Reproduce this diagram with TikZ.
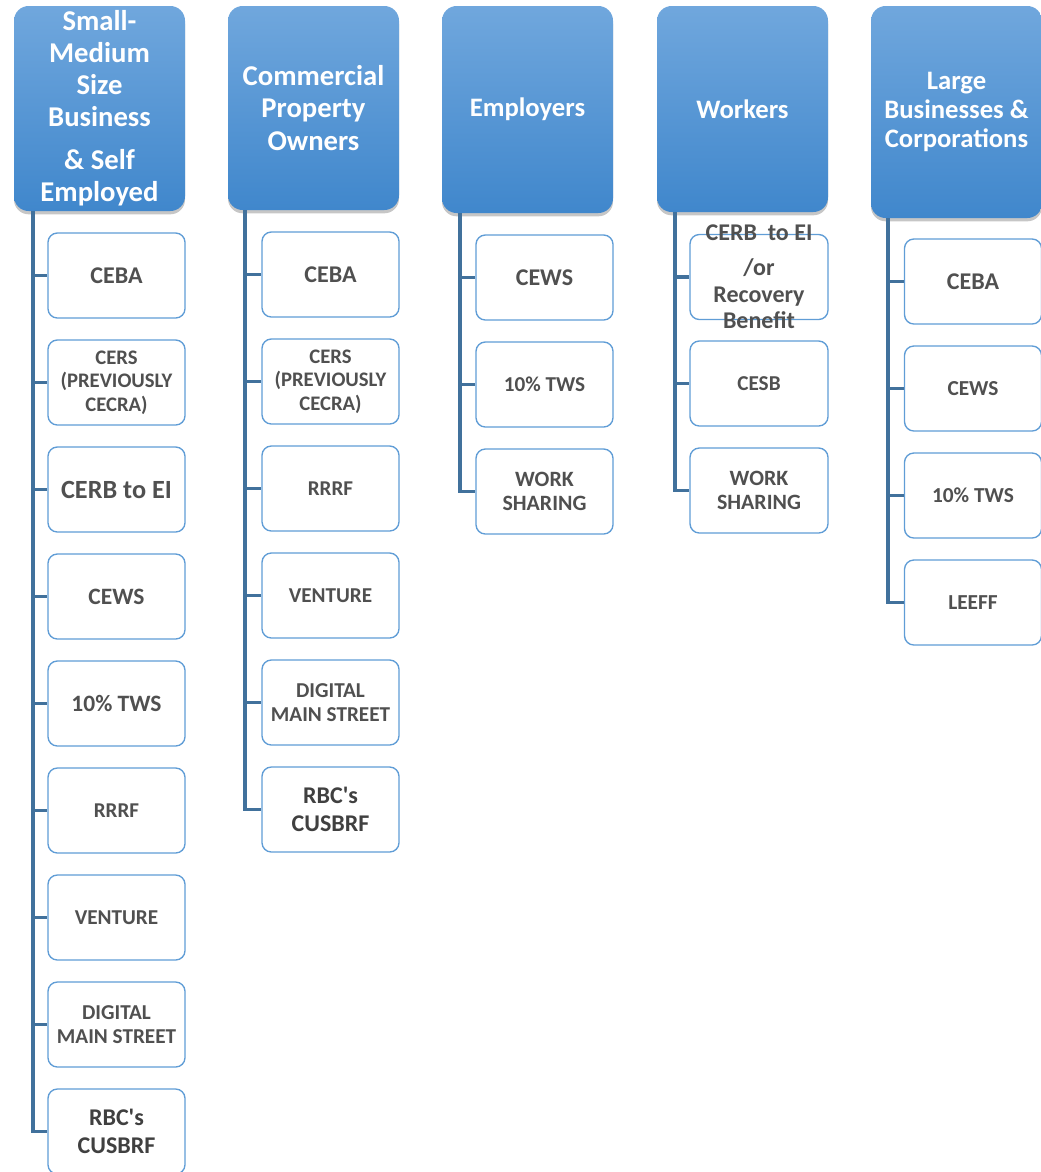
\documentclass[tikz,border=0pt]{standalone}
\usepackage{fontspec}
\setmainfont{Carlito}
\usetikzlibrary{shadows}

\definecolor{headtop}{RGB}{112,167,221}
\definecolor{headbot}{RGB}{64,135,204}
\definecolor{boxline}{RGB}{96,157,214}
\definecolor{connline}{RGB}{65,113,156}
\definecolor{txtgray}{RGB}{80,80,80}

\tikzset{every picture/.style={line width=0.75pt}}
\tikzset{
  head/.style={rounded corners=11pt, top color=headtop, bottom color=headbot, draw=none,
    drop shadow={opacity=0.45, shadow xshift=0pt, shadow yshift=-2.5pt},
    minimum width=128.25pt, text=white, align=center, inner sep=2pt,
    font=\bfseries\fontsize{20}{24}\selectfont},
  item/.style={rounded corners=7pt, draw=boxline, line width=1pt, fill=white,
    minimum width=102.75pt, minimum height=63.75pt, text=txtgray, align=center,
    inner sep=1pt, font=\bfseries\fontsize{16}{19}\selectfont},
  conn/.style={draw=connline, line width=2.3pt},
}

\begin{document}
\begin{tikzpicture}[x=0.75pt,y=0.75pt,yscale=-1,xscale=1]
\useasboundingbox (0,0) rectangle (1041,1172);

%Rounded Rect (headers)
\draw (99.5,108.5) node [head, minimum height=153.75pt, font=\bfseries\fontsize{21.5}{24}\selectfont] (h1) {Small-\\Medium\\Size\\Business\\[8pt]\& Self\\Employed};
\draw (313.5,108) node [head, minimum height=153pt, font=\bfseries\fontsize{21.5}{24.5}\selectfont] (h2) {Commercial\\Property\\Owners};
\draw (527.5,109.5) node [head, minimum height=155.25pt] (h3) {Employers};
\draw (742.5,109) node [head, minimum height=154.5pt] (h4) {Workers};
\draw (956.5,112) node [head, minimum height=159pt, font=\bfseries\fontsize{20}{22}\selectfont] (h5) {Large\\Businesses \&\\Corporations};

% Text Node (column 1)
\draw (116.5,275.5) node [item, font=\bfseries\fontsize{18}{20}\selectfont] (a1) {CEBA};
\draw (116.5,382.5) node [item, font=\bfseries\fontsize{15.5}{17.5}\selectfont] (a2) {CERS\\(PREVIOUSLY\\CECRA)};
\draw (116.5,489.5) node [item, font=\bfseries\fontsize{19.7}{22}\selectfont] (a3) {CERB to EI};
\draw (116.5,596.5) node [item, font=\bfseries\fontsize{17.6}{20}\selectfont] (a4) {CEWS};
\draw (116.5,703.5) node [item, font=\bfseries\fontsize{17.6}{20}\selectfont] (a5) {10\% TWS};
\draw (116.5,810.5) node [item, font=\bfseries\fontsize{15.8}{18}\selectfont] (a6) {RRRF};
\draw (116.5,917.5) node [item, font=\bfseries\fontsize{15.9}{18}\selectfont] (a7) {VENTURE};
\draw (116.5,1024.5) node [item, font=\bfseries\fontsize{15.9}{18}\selectfont] (a8) {DIGITAL\\MAIN STREET};
\draw (116.5,1131.5) node [item, text=black!75, font=\bfseries\fontsize{18}{21}\selectfont] (a9) {RBC\textquotesingle s\\CUSBRF};

% Text Node (column 2)
\draw (330.5,274.5) node [item, font=\bfseries\fontsize{18}{20}\selectfont] (b1) {CEBA};
\draw (330.5,381.5) node [item, font=\bfseries\fontsize{15.5}{17.5}\selectfont] (b2) {CERS\\(PREVIOUSLY\\CECRA)};
\draw (330.5,488.5) node [item, font=\bfseries\fontsize{15.8}{18}\selectfont] (b3) {RRRF};
\draw (330.5,595.5) node [item, font=\bfseries\fontsize{15.9}{18}\selectfont] (b4) {VENTURE};
\draw (330.5,702.5) node [item, font=\bfseries\fontsize{15.9}{18}\selectfont] (b5) {DIGITAL\\MAIN STREET};
\draw (330.5,809.5) node [item, text=black!75, font=\bfseries\fontsize{18}{21}\selectfont] (b6) {RBC\textquotesingle s\\CUSBRF};

% Text Node (column 3)
\draw (544.5,277.5) node [item, font=\bfseries\fontsize{18}{20}\selectfont] (c1) {CEWS};
\draw (544.5,384.5) node [item, font=\bfseries\fontsize{15.9}{18}\selectfont] (c2) {10\% TWS};
\draw (544.5,491.5) node [item, font=\bfseries\fontsize{16.4}{18.5}\selectfont] (c3) {WORK\\SHARING};

% Text Node (column 4)
\draw (759,277) node [item, minimum width=103.5pt] (d1) {};
\draw (759,277) node [text=txtgray, align=center, inner sep=0pt, font=\bfseries\fontsize{18}{20}\selectfont] (d1t) {CERB\ \ to EI\\[6pt]/or\\Recovery\\Benefit};
\draw (759,383.5) node [item, minimum width=103.5pt, font=\bfseries\fontsize{15.9}{18}\selectfont] (d2) {CESB};
\draw (759,490.5) node [item, minimum width=103.5pt, font=\bfseries\fontsize{16.4}{18.5}\selectfont] (d3) {WORK\\SHARING};

% Text Node (column 5)
\draw (973,281.5) node [item, font=\bfseries\fontsize{18}{20}\selectfont] (e1) {CEBA};
\draw (973,388.5) node [item, font=\bfseries\fontsize{16}{18}\selectfont] (e2) {CEWS};
\draw (973,495.5) node [item, font=\bfseries\fontsize{16}{18}\selectfont] (e3) {10\% TWS};
\draw (973,602.5) node [item, font=\bfseries\fontsize{16}{18}\selectfont] (e4) {LEEFF};

%Straight Lines
\coordinate (t1) at (33,211);
\coordinate (t2) at (245,210);
\coordinate (t3) at (460,213);
\coordinate (t4) at (675,212);
\coordinate (t5) at (888,218);

\draw [conn] (t1) |- (a1.west);
\draw [conn] (t1) |- (a2.west);
\draw [conn] (t1) |- (a3.west);
\draw [conn] (t1) |- (a4.west);
\draw [conn] (t1) |- (a5.west);
\draw [conn] (t1) |- (a6.west);
\draw [conn] (t1) |- (a7.west);
\draw [conn] (t1) |- (a8.west);
\draw [conn] (t1) |- (a9.west);

\draw [conn] (t2) |- (b1.west);
\draw [conn] (t2) |- (b2.west);
\draw [conn] (t2) |- (b3.west);
\draw [conn] (t2) |- (b4.west);
\draw [conn] (t2) |- (b5.west);
\draw [conn] (t2) |- (b6.west);

\draw [conn] (t3) |- (c1.west);
\draw [conn] (t3) |- (c2.west);
\draw [conn] (t3) |- (c3.west);

\draw [conn] (t4) |- (d1.west);
\draw [conn] (t4) |- (d2.west);
\draw [conn] (t4) |- (d3.west);

\draw [conn] (t5) |- (e1.west);
\draw [conn] (t5) |- (e2.west);
\draw [conn] (t5) |- (e3.west);
\draw [conn] (t5) |- (e4.west);

\end{tikzpicture}
\end{document}
